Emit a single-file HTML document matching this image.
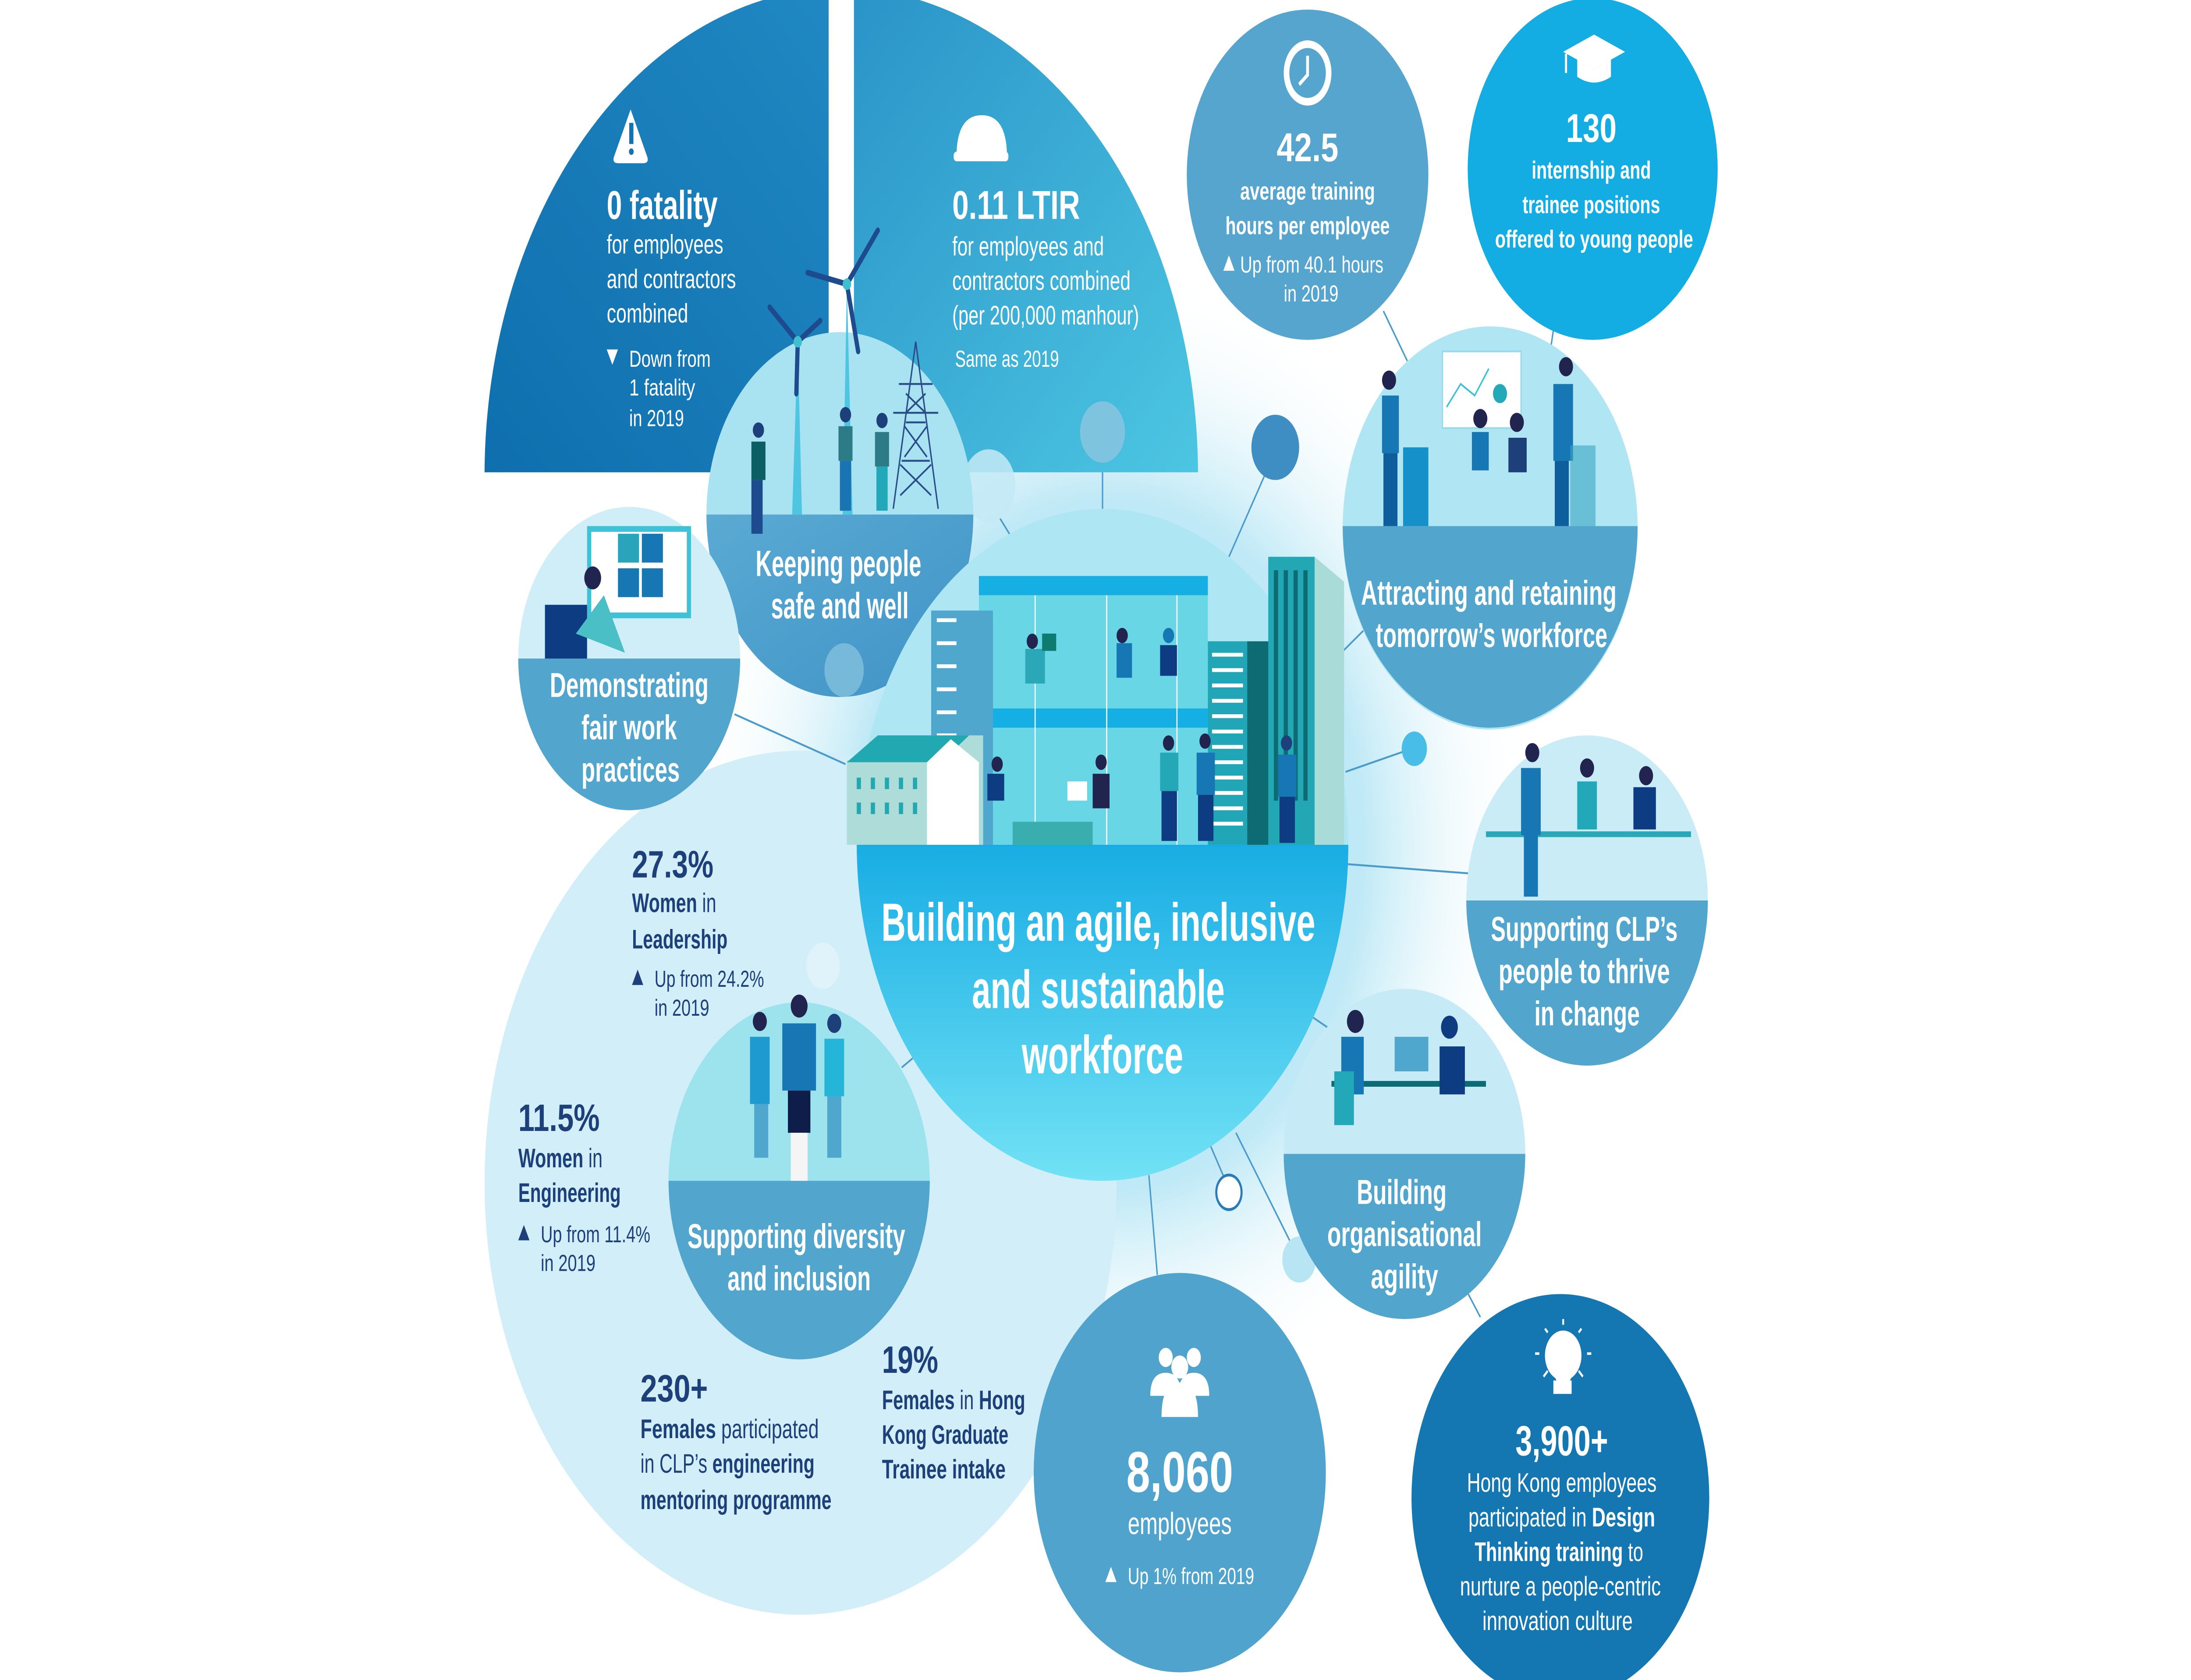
<!DOCTYPE html>
<html><head><meta charset="utf-8">
<meta name="viewport" content="width=6835, height=3834, initial-scale=1">
<style>
html,body{margin:0;padding:0;background:#fff;width:100%;height:100%;overflow:hidden;}
svg{display:block;width:100vw;height:100vh;position:absolute;left:0;top:0}
text{font-family:"Liberation Sans Narrow","Liberation Sans",sans-serif;fill:#fff}
.b{font-weight:bold}
.d{fill:#1d3f7a}
</style></head><body>
<svg viewBox="0 0 1560 875" preserveAspectRatio="none" xmlns="http://www.w3.org/2000/svg">
<defs>
<linearGradient id="gL" x1="0" y1="1" x2="1" y2="0"><stop offset="0" stop-color="#0f6fae"/><stop offset="1" stop-color="#2088c2"/></linearGradient>
<linearGradient id="gR" x1="0" y1="0" x2="1" y2="1"><stop offset="0" stop-color="#2a93c8"/><stop offset="1" stop-color="#4cc6e2"/></linearGradient>
<linearGradient id="gC" x1="0" y1="0" x2="0" y2="1"><stop offset="0" stop-color="#18ade4"/><stop offset="1" stop-color="#72e2f5"/></linearGradient>
<radialGradient id="halo" cx="0.5" cy="0.5" r="0.5"><stop offset="0.6" stop-color="#bfe9f6"/><stop offset="1" stop-color="#ffffff" stop-opacity="0"/></radialGradient>
<linearGradient id="gK" x1="0" y1="0" x2="1" y2="1"><stop offset="0" stop-color="#5aaad3"/><stop offset="1" stop-color="#3f93c6"/></linearGradient>
</defs>

<circle cx="790" cy="440" r="300" fill="url(#halo)"/>
<circle cx="570" cy="616" r="225" fill="#d2eef8"/>

<g stroke="#4a9acb" stroke-width="1" fill="none">
<line x1="875" y1="290" x2="905" y2="240"/>
<line x1="955" y1="340" x2="985" y2="318"/>
<line x1="958" y1="402" x2="1005" y2="390"/>
<line x1="958" y1="450" x2="1048" y2="455"/>
<line x1="935" y1="530" x2="955" y2="540"/>
<line x1="862" y1="597" x2="872" y2="614"/>
<line x1="880" y1="590" x2="925" y2="656"/>
<line x1="818" y1="612" x2="824" y2="664"/>
<line x1="785" y1="246" x2="785" y2="265"/>
<line x1="712" y1="270" x2="722" y2="282"/>
<line x1="985" y1="162" x2="1002" y2="188"/>
<line x1="1106" y1="172" x2="1104" y2="182"/>
<line x1="523" y1="372" x2="602" y2="398"/>
<line x1="642" y1="556" x2="655" y2="548"/>
<line x1="1044" y1="672" x2="1054" y2="686"/>
</g>

<path d="M590,246 L345,246 A254,254 0 0 1 590,-6 Z" fill="url(#gL)"/>
<path d="M608,-6 A254,254 0 0 1 853,246 L608,246 Z" fill="url(#gR)"/>

<circle cx="785" cy="225" r="16" fill="#8cc6e0" opacity="0.8"/>
<circle cx="704" cy="253" r="19" fill="#c4eaf6" opacity="0.85"/>
<circle cx="908" cy="233" r="17" fill="#3e8ec4"/>
<circle cx="1007" cy="390" r="9" fill="#47bde8"/>
<circle cx="875" cy="621" r="9" fill="#fff" stroke="#2a7bb7" stroke-width="1.5"/>
<circle cx="925" cy="656" r="12" fill="#b7e5f3"/>
<circle cx="586" cy="503" r="12" fill="#e6f5fb" opacity="0.7"/>

<circle cx="598" cy="268" r="95" fill="#a9e3f1"/>
<path d="M503,268 L693,268 A95,95 0 0 1 503,268 Z" fill="url(#gK)"/>
<g>
<polygon points="564,268 568,178 571,268" fill="#4ec6e2"/>
<polygon points="600,268 603,148 607,268" fill="#4ec6e2"/>
<g stroke="#1d4b8e" stroke-width="3" stroke-linecap="round">
<line x1="603" y1="148" x2="625" y2="120"/><line x1="603" y1="148" x2="575" y2="142"/><line x1="603" y1="148" x2="611" y2="183"/>
<line x1="568" y1="178" x2="548" y2="160"/><line x1="568" y1="178" x2="584" y2="167"/><line x1="568" y1="178" x2="567" y2="205"/>
</g>
<circle cx="603" cy="148" r="3" fill="#3fc0d0"/><circle cx="568" cy="178" r="3" fill="#3fc0d0"/>
<g stroke="#2a4d8a" stroke-width="1" fill="none">
<path d="M636,265 L652,178 L668,265 M645,220 L659,220 M642,240 L662,240 M648,200 L656,200 M636,215 L668,215 M640,200 L664,200"/>
<path d="M645,205 L659,215 M659,205 L645,215 M644,222 L660,238 M660,222 L644,238 M641,242 L663,258 M663,242 L641,258"/>
</g>
<rect x="535" y="230" width="10" height="20" fill="#0b5e63"/><rect x="535" y="250" width="8" height="28" fill="#1d4b8e"/><circle cx="540" cy="224" r="4" fill="#1d3f7a"/>
<rect x="597" y="222" width="10" height="18" fill="#2c7b87"/><rect x="598" y="240" width="8" height="26" fill="#1a73b3"/><circle cx="602" cy="216" r="4" fill="#1d3f7a"/>
<rect x="623" y="225" width="10" height="18" fill="#2c7b87"/><rect x="624" y="243" width="8" height="23" fill="#22a8b8"/><circle cx="628" cy="219" r="4" fill="#1d3f7a"/>
</g>
<text x="597" y="300" class="b" font-size="19" text-anchor="middle" textLength="118" lengthAdjust="spacingAndGlyphs">Keeping people</text>
<text x="598" y="322" class="b" font-size="19" text-anchor="middle" textLength="98" lengthAdjust="spacingAndGlyphs">safe and well</text>
<circle cx="601" cy="349" r="14" fill="#8cc6e0" opacity="0.7"/>

<circle cx="448" cy="343" r="79" fill="#d0eef8"/>
<path d="M369,343 L527,343 A79,79 0 0 1 369,343 Z" fill="#52a5cd"/>
<rect x="418" y="274" width="74" height="48" fill="#3ec2d6"/><rect x="421" y="277" width="68" height="42" fill="#fff"/>
<rect x="440" y="278" width="15" height="15" fill="#2aa4ba"/><rect x="457" y="278" width="15" height="15" fill="#1776b4"/><rect x="440" y="296" width="15" height="15" fill="#1776b4"/><rect x="457" y="296" width="15" height="15" fill="#1776b4"/>
<rect x="388" y="315" width="30" height="28" fill="#0e3c82"/><circle cx="422" cy="301" r="6" fill="#21244e"/><path d="M410,330 L430,310 L445,340 Z" fill="#4ac0c6"/>
<text x="448" y="363" class="b" font-size="18" text-anchor="middle" textLength="113" lengthAdjust="spacingAndGlyphs">Demonstrating</text>
<text x="448" y="385" class="b" font-size="18" text-anchor="middle" textLength="68" lengthAdjust="spacingAndGlyphs">fair work</text>
<text x="449" y="407" class="b" font-size="18" text-anchor="middle" textLength="70" lengthAdjust="spacingAndGlyphs">practices</text>

<path d="M449,57 L437,82 Q436,85 440,85 L458,85 Q462,85 461,82 Z" fill="#fff"/><rect x="448" y="64" width="3" height="11" fill="#1572b0"/><circle cx="449.5" cy="79" r="1.7" fill="#1572b0"/>
<text x="432" y="114" class="b" font-size="21" textLength="79" lengthAdjust="spacingAndGlyphs">0 fatality</text>
<text x="432" y="132" font-size="14" textLength="83" lengthAdjust="spacingAndGlyphs">for employees</text>
<text x="432" y="150" font-size="14" textLength="92" lengthAdjust="spacingAndGlyphs">and contractors</text>
<text x="432" y="168" font-size="14" textLength="58" lengthAdjust="spacingAndGlyphs">combined</text>
<polygon points="432,182 440,182 436,190" fill="#fff"/>
<text x="448" y="191" font-size="12" textLength="58" lengthAdjust="spacingAndGlyphs">Down from</text>
<text x="448" y="206" font-size="12" textLength="47" lengthAdjust="spacingAndGlyphs">1 fatality</text>
<text x="448" y="222" font-size="12" textLength="39" lengthAdjust="spacingAndGlyphs">in 2019</text>

<path d="M681,82 Q681,60 699,60 Q717,60 717,82 Z" fill="#fff"/><rect x="679" y="79" width="39" height="5" rx="2" fill="#fff"/>
<text x="678" y="114" class="b" font-size="21" textLength="91" lengthAdjust="spacingAndGlyphs">0.11 LTIR</text>
<text x="678" y="133" font-size="14" textLength="108" lengthAdjust="spacingAndGlyphs">for employees and</text>
<text x="678" y="151" font-size="14" textLength="127" lengthAdjust="spacingAndGlyphs">contractors combined</text>
<text x="678" y="169" font-size="14" textLength="133" lengthAdjust="spacingAndGlyphs">(per 200,000 manhour)</text>
<text x="680" y="191" font-size="12" textLength="74" lengthAdjust="spacingAndGlyphs">Same as 2019</text>

<circle cx="931" cy="91" r="86" fill="#55a5cf"/>
<circle cx="931" cy="38" r="17" fill="#fff"/><circle cx="931" cy="38" r="13" fill="#55a5cf"/><path d="M931,29 L931,39 L925,44" stroke="#fff" stroke-width="2" fill="none"/>
<text x="931" y="84" class="b" font-size="21" text-anchor="middle" textLength="44" lengthAdjust="spacingAndGlyphs">42.5</text>
<text x="931" y="104" class="b" font-size="13" text-anchor="middle" textLength="96" lengthAdjust="spacingAndGlyphs">average training</text>
<text x="931" y="122" class="b" font-size="13" text-anchor="middle" textLength="117" lengthAdjust="spacingAndGlyphs">hours per employee</text>
<polygon points="871,141 879,141 875,133" fill="#fff"/>
<text x="883" y="142" font-size="12" textLength="102" lengthAdjust="spacingAndGlyphs">Up from 40.1 hours</text>
<text x="914" y="157" font-size="12" textLength="39" lengthAdjust="spacingAndGlyphs">in 2019</text>

<circle cx="1134" cy="88" r="89" fill="#14ade3"/>
<path d="M1113,27 L1135,18 L1157,27 L1135,36 Z" fill="#fff"/><path d="M1123,31 L1123,40 Q1135,46 1147,40 L1147,31 L1135,36 Z" fill="#fff"/><line x1="1115" y1="28" x2="1115" y2="38" stroke="#fff" stroke-width="1.5"/>
<text x="1133" y="74" class="b" font-size="21" text-anchor="middle" textLength="36" lengthAdjust="spacingAndGlyphs">130</text>
<text x="1133" y="93" class="b" font-size="13" text-anchor="middle" textLength="85" lengthAdjust="spacingAndGlyphs">internship and</text>
<text x="1133" y="111" class="b" font-size="13" text-anchor="middle" textLength="98" lengthAdjust="spacingAndGlyphs">trainee positions</text>
<text x="1135" y="129" class="b" font-size="13" text-anchor="middle" textLength="141" lengthAdjust="spacingAndGlyphs">offered to young people</text>

<circle cx="1061" cy="275" r="105" fill="#b0e5f3"/>
<path d="M956,274 L1166,274 A105,105 0 0 1 956,274 Z" fill="#52a5cd"/>
<rect x="1027" y="183" width="56" height="40" fill="#fff" stroke="#9adbe9"/>
<polyline points="1030,212 1040,200 1050,206 1060,192" stroke="#3ec2d6" fill="none"/><circle cx="1068" cy="205" r="5" fill="#24a9b9"/>
<rect x="999" y="233" width="18" height="41" fill="#1590c8"/>
<rect x="984" y="206" width="12" height="30" fill="#1776b4"/><rect x="985" y="236" width="10" height="38" fill="#0e5d9c"/><circle cx="989" cy="198" r="5" fill="#21244e"/>
<rect x="1048" y="225" width="12" height="20" fill="#1776b4"/><circle cx="1054" cy="218" r="5" fill="#21244e"/>
<rect x="1074" y="228" width="13" height="18" fill="#1d3f7a"/><circle cx="1080" cy="220" r="5" fill="#21244e"/>
<rect x="1106" y="200" width="14" height="40" fill="#1776b4"/><rect x="1107" y="240" width="10" height="34" fill="#0e5d9c"/><circle cx="1115" cy="191" r="5" fill="#21244e"/>
<rect x="1118" y="232" width="18" height="42" fill="#3aa7c3" opacity="0.6"/>
<text x="1060" y="315" class="b" font-size="18" text-anchor="middle" textLength="182" lengthAdjust="spacingAndGlyphs">Attracting and retaining</text>
<text x="1062" y="337" class="b" font-size="18" text-anchor="middle" textLength="165" lengthAdjust="spacingAndGlyphs">tomorrow’s workforce</text>

<circle cx="785" cy="440" r="175" fill="#aee6f3"/>
<path d="M610,440 L960,440 A175,175 0 0 1 610,440 Z" fill="url(#gC)"/>
<rect x="697" y="300" width="163" height="140" fill="#68d6e5"/>
<rect x="697" y="300" width="163" height="10" fill="#16afe4"/>
<rect x="697" y="369" width="163" height="10" fill="#16afe4"/>
<g stroke="#fff" stroke-width="0.8"><line x1="737" y1="310" x2="737" y2="440"/><line x1="788" y1="310" x2="788" y2="440"/><line x1="838" y1="310" x2="838" y2="440"/></g>
<rect x="663" y="318" width="44" height="122" fill="#4fa7cd"/>
<g fill="#fff"><rect x="667" y="322" width="14" height="2"/><rect x="667" y="334" width="14" height="2"/><rect x="667" y="346" width="14" height="2"/><rect x="667" y="358" width="14" height="2"/><rect x="667" y="370" width="14" height="2"/><rect x="667" y="382" width="14" height="2"/></g>
<polygon points="603,400 630,383 700,383 700,440 603,440" fill="#aedcd8"/>
<rect x="603" y="396" width="55" height="44" fill="#aedcd8"/><polygon points="603,397 625,383 690,383 670,397" fill="#22a8b0"/>
<polygon points="660,397 677,385 697,397 697,440 660,440" fill="#fff"/>
<g fill="#22a8b0"><rect x="610" y="405" width="3" height="6"/><rect x="620" y="405" width="3" height="6"/><rect x="630" y="405" width="3" height="6"/><rect x="640" y="405" width="3" height="6"/><rect x="650" y="405" width="3" height="6"/><rect x="610" y="418" width="3" height="6"/><rect x="620" y="418" width="3" height="6"/><rect x="630" y="418" width="3" height="6"/><rect x="640" y="418" width="3" height="6"/><rect x="650" y="418" width="3" height="6"/></g>
<rect x="721" y="428" width="57" height="12" fill="#3aaeae"/>
<rect x="860" y="334" width="28" height="106" fill="#20a6b7"/>
<g fill="#fff"><rect x="863" y="340" width="22" height="2"/><rect x="863" y="348" width="22" height="2"/><rect x="863" y="356" width="22" height="2"/><rect x="863" y="364" width="22" height="2"/><rect x="863" y="372" width="22" height="2"/><rect x="863" y="380" width="22" height="2"/><rect x="863" y="388" width="22" height="2"/><rect x="863" y="396" width="22" height="2"/><rect x="863" y="404" width="22" height="2"/><rect x="863" y="412" width="22" height="2"/><rect x="863" y="420" width="22" height="2"/><rect x="863" y="428" width="22" height="2"/></g>
<rect x="888" y="334" width="16" height="106" fill="#0d6b73"/>
<rect x="903" y="290" width="33" height="150" fill="#24a7b5"/>
<polygon points="936,290 957,303 957,440 936,440" fill="#a9dcd8"/>
<g fill="#0d6b73"><rect x="907" y="297" width="3" height="120"/><rect x="914" y="297" width="3" height="120"/><rect x="921" y="297" width="3" height="120"/><rect x="928" y="297" width="3" height="120"/></g>
<g>
<rect x="730" y="338" width="14" height="18" fill="#2aa8b8"/><circle cx="735" cy="334" r="4" fill="#21244e"/><rect x="742" y="330" width="10" height="9" fill="#0d7b70"/>
<rect x="795" y="335" width="11" height="18" fill="#1776b4"/><circle cx="799" cy="331" r="4" fill="#21244e"/>
<rect x="826" y="336" width="12" height="16" fill="#0e3c82"/><circle cx="832" cy="331" r="4" fill="#1776b4"/>
<rect x="703" y="403" width="12" height="14" fill="#0e3c82"/><circle cx="710" cy="398" r="4" fill="#21244e"/>
<rect x="760" y="407" width="14" height="10" fill="#fff"/><rect x="778" y="403" width="12" height="18" fill="#21244e"/><circle cx="784" cy="397" r="4" fill="#21244e"/>
<rect x="826" y="392" width="13" height="20" fill="#24a8b8"/><rect x="827" y="412" width="11" height="26" fill="#0e3c82"/><circle cx="832" cy="387" r="4" fill="#21244e"/>
<rect x="852" y="392" width="13" height="22" fill="#1776b4"/><rect x="853" y="414" width="11" height="24" fill="#0e3c82"/><circle cx="858" cy="386" r="4" fill="#21244e"/>
<rect x="910" y="393" width="13" height="22" fill="#1776b4"/><rect x="911" y="415" width="11" height="24" fill="#0e3c82"/><circle cx="916" cy="387" r="4" fill="#1d3f7a"/>
</g>
<text x="782" y="490" class="b" font-size="28" text-anchor="middle" textLength="309" lengthAdjust="spacingAndGlyphs">Building an agile, inclusive</text>
<text x="782" y="525" class="b" font-size="28" text-anchor="middle" textLength="180" lengthAdjust="spacingAndGlyphs">and sustainable</text>
<text x="785" y="559" class="b" font-size="28" text-anchor="middle" textLength="115" lengthAdjust="spacingAndGlyphs">workforce</text>

<circle cx="1130" cy="469" r="86" fill="#c9ecf7"/>
<path d="M1044,469 L1216,469 A86,86 0 0 1 1044,469 Z" fill="#52a5cd"/>
<rect x="1058" y="433" width="146" height="3" fill="#2aa8b8"/>
<rect x="1083" y="400" width="14" height="35" fill="#1776b4"/><rect x="1085" y="435" width="10" height="32" fill="#1776b4"/><circle cx="1091" cy="392" r="5" fill="#21244e"/>
<rect x="1123" y="407" width="14" height="25" fill="#22a8b8"/><circle cx="1130" cy="400" r="5" fill="#21244e"/>
<rect x="1163" y="410" width="16" height="22" fill="#0e3c82"/><circle cx="1172" cy="404" r="5" fill="#21244e"/>
<text x="1128" y="490" class="b" font-size="18" text-anchor="middle" textLength="133" lengthAdjust="spacingAndGlyphs">Supporting CLP’s</text>
<text x="1128" y="512" class="b" font-size="18" text-anchor="middle" textLength="122" lengthAdjust="spacingAndGlyphs">people to thrive</text>
<text x="1130" y="534" class="b" font-size="18" text-anchor="middle" textLength="75" lengthAdjust="spacingAndGlyphs">in change</text>

<circle cx="1000" cy="601" r="86" fill="#c6ebf7"/>
<path d="M914,601 L1086,601 A86,86 0 0 1 914,601 Z" fill="#52a5cd"/>
<rect x="948" y="563" width="110" height="3" fill="#0d6b73"/>
<rect x="955" y="540" width="16" height="30" fill="#1776b4"/><circle cx="965" cy="532" r="6" fill="#21244e"/><rect x="950" y="558" width="14" height="28" fill="#22a8b8"/>
<rect x="993" y="540" width="24" height="18" fill="#4fa7cd"/>
<rect x="1025" y="545" width="18" height="25" fill="#0e3c82"/><circle cx="1032" cy="535" r="6" fill="#0e3c82"/>
<text x="998" y="627" class="b" font-size="18" text-anchor="middle" textLength="64" lengthAdjust="spacingAndGlyphs">Building</text>
<text x="1000" y="649" class="b" font-size="18" text-anchor="middle" textLength="110" lengthAdjust="spacingAndGlyphs">organisational</text>
<text x="1000" y="671" class="b" font-size="18" text-anchor="middle" textLength="48" lengthAdjust="spacingAndGlyphs">agility</text>

<circle cx="569" cy="615" r="93" fill="#9de3ee"/>
<path d="M476,615 L662,615 A93,93 0 0 1 476,615 Z" fill="#52a5cd"/>
<rect x="534" y="540" width="14" height="35" fill="#1e9ad0"/><rect x="537" y="575" width="10" height="28" fill="#4fa7cd"/><circle cx="541" cy="532" r="5" fill="#21244e"/>
<rect x="557" y="533" width="24" height="35" fill="#1776b4"/><rect x="561" y="568" width="16" height="22" fill="#0e1d4a"/><rect x="563" y="590" width="12" height="25" fill="#f5f5f5"/><circle cx="569" cy="524" r="6" fill="#21244e"/>
<rect x="587" y="541" width="14" height="30" fill="#25b5d8"/><rect x="589" y="571" width="10" height="32" fill="#4fa7cd"/><circle cx="594" cy="533" r="5" fill="#1d3f7a"/>
<text x="567" y="650" class="b" font-size="18" text-anchor="middle" textLength="155" lengthAdjust="spacingAndGlyphs">Supporting diversity</text>
<text x="569" y="672" class="b" font-size="18" text-anchor="middle" textLength="102" lengthAdjust="spacingAndGlyphs">and inclusion</text>

<text x="450" y="457" class="b d" font-size="20" textLength="58" lengthAdjust="spacingAndGlyphs">27.3%</text>
<text x="450" y="475" class="d" font-size="14" textLength="60" lengthAdjust="spacingAndGlyphs"><tspan class="b">Women</tspan> in</text>
<text x="450" y="494" class="b d" font-size="14" textLength="68" lengthAdjust="spacingAndGlyphs">Leadership</text>
<polygon points="450,513 458,513 454,505" class="d"/>
<text x="466" y="514" class="d" font-size="12" textLength="78" lengthAdjust="spacingAndGlyphs">Up from 24.2%</text>
<text x="466" y="529" class="d" font-size="12" textLength="39" lengthAdjust="spacingAndGlyphs">in 2019</text>

<text x="369" y="589" class="b d" font-size="20" textLength="58" lengthAdjust="spacingAndGlyphs">11.5%</text>
<text x="369" y="608" class="d" font-size="14" textLength="60" lengthAdjust="spacingAndGlyphs"><tspan class="b">Women</tspan> in</text>
<text x="369" y="626" class="b d" font-size="14" textLength="73" lengthAdjust="spacingAndGlyphs">Engineering</text>
<polygon points="369,646 377,646 373,638" class="d"/>
<text x="385" y="647" class="d" font-size="12" textLength="78" lengthAdjust="spacingAndGlyphs">Up from 11.4%</text>
<text x="385" y="662" class="d" font-size="12" textLength="39" lengthAdjust="spacingAndGlyphs">in 2019</text>

<text x="456" y="730" class="b d" font-size="20" textLength="48" lengthAdjust="spacingAndGlyphs">230+</text>
<text x="456" y="749" class="d" font-size="14" textLength="127" lengthAdjust="spacingAndGlyphs"><tspan class="b">Females</tspan> participated</text>
<text x="456" y="767" class="d" font-size="14" textLength="124" lengthAdjust="spacingAndGlyphs">in CLP’s <tspan class="b">engineering</tspan></text>
<text x="456" y="786" class="b d" font-size="14" textLength="136" lengthAdjust="spacingAndGlyphs">mentoring programme</text>

<text x="628" y="715" class="b d" font-size="20" textLength="40" lengthAdjust="spacingAndGlyphs">19%</text>
<text x="628" y="734" class="d" font-size="14" textLength="102" lengthAdjust="spacingAndGlyphs"><tspan class="b">Females</tspan> in <tspan class="b">Hong</tspan></text>
<text x="628" y="752" class="b d" font-size="14" textLength="90" lengthAdjust="spacingAndGlyphs">Kong Graduate</text>
<text x="628" y="770" class="b d" font-size="14" textLength="88" lengthAdjust="spacingAndGlyphs">Trainee intake</text>

<circle cx="840" cy="767" r="104" fill="#4fa3cd"/>
<g fill="#fff"><circle cx="830" cy="707" r="5"/><circle cx="850" cy="707" r="5"/><circle cx="840" cy="712" r="6"/><path d="M819,727 Q819,715 830,715 Q841,715 841,727 Z"/><path d="M839,727 Q839,715 850,715 Q861,715 861,727 Z"/><path d="M827,738 Q827,720 840,720 Q853,720 853,738 Z"/></g>
<text x="840" y="777" class="b" font-size="30" text-anchor="middle" textLength="76" lengthAdjust="spacingAndGlyphs">8,060</text>
<text x="840" y="799" font-size="16" text-anchor="middle" textLength="74" lengthAdjust="spacingAndGlyphs">employees</text>
<polygon points="787,824 795,824 791,816" fill="#fff"/>
<text x="803" y="825" font-size="12" textLength="90" lengthAdjust="spacingAndGlyphs">Up 1% from 2019</text>

<circle cx="1111" cy="780" r="106" fill="#1477b2"/>
<circle cx="1113" cy="706" r="13" fill="#fff"/><path d="M1103,712 L1109,720 L1117,720 L1123,712 Z" fill="#fff"/><rect x="1106" y="719" width="13" height="7" fill="#fff"/>
<g stroke="#fff" stroke-width="1.3"><line x1="1113" y1="687" x2="1113" y2="690"/><line x1="1100" y1="692" x2="1102" y2="694"/><line x1="1126" y1="692" x2="1124" y2="694"/><line x1="1093" y1="705" x2="1096" y2="705"/><line x1="1130" y1="705" x2="1133" y2="705"/><line x1="1099" y1="717" x2="1102" y2="714"/><line x1="1127" y1="717" x2="1124" y2="714"/></g>
<text x="1112" y="758" class="b" font-size="22" text-anchor="middle" textLength="66" lengthAdjust="spacingAndGlyphs">3,900+</text>
<text x="1112" y="777" font-size="14" text-anchor="middle" textLength="135" lengthAdjust="spacingAndGlyphs">Hong Kong employees</text>
<text x="1112" y="795" font-size="14" text-anchor="middle" textLength="133" lengthAdjust="spacingAndGlyphs">participated in <tspan class="b">Design</tspan></text>
<text x="1110" y="813" font-size="14" text-anchor="middle" textLength="120" lengthAdjust="spacingAndGlyphs"><tspan class="b">Thinking training</tspan> to</text>
<text x="1111" y="831" font-size="14" text-anchor="middle" textLength="143" lengthAdjust="spacingAndGlyphs">nurture a people-centric</text>
<text x="1109" y="849" font-size="14" text-anchor="middle" textLength="107" lengthAdjust="spacingAndGlyphs">innovation culture</text>
</svg>
</body></html>
